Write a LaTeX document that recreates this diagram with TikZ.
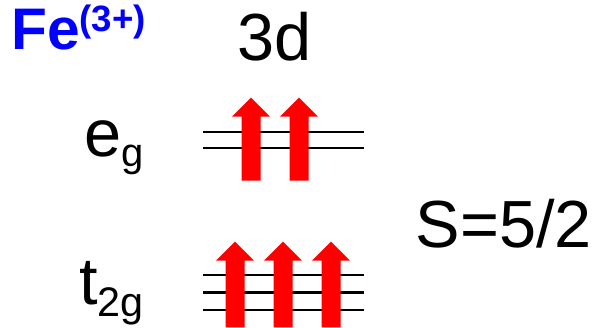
\documentclass[tikz,border=0pt]{standalone}
\usepackage{fontspec}
\setmainfont{Liberation Sans}
\tikzset{
  level/.style={line width=1.6pt},
  spin/.style={fill=red},
  big/.style={inner sep=0pt,font=\fontsize{50}{60}\selectfont},
}
\begin{document}
\begin{tikzpicture}[x=0.75pt,y=0.75pt]
\useasboundingbox (0,0) rectangle (596,328);
% e_g levels
\draw[level] (203,196.3) -- (364,196.3);
\draw[level] (203,180.3) -- (364,180.3);
% t_2g levels
\draw[level] (203,53) -- (364,53);
\draw[level] (203,35.5) -- (364,35.5);
\draw[level] (203,18) -- (364,18);
% spins in e_g
\fill[spin] (241.5,147.3) -- (241.5,211.3) -- (232,211.3) -- (251,230.3) -- (270,211.3) -- (260.5,211.3) -- (260.5,147.3) -- cycle;
\fill[spin] (289.5,147.3) -- (289.5,211.3) -- (280,211.3) -- (299,230.3) -- (318,211.3) -- (308.5,211.3) -- (308.5,147.3) -- cycle;
% spins in t_2g
\fill[spin] (225.5,0.7) -- (225.5,67.3) -- (216,67.3) -- (235,86.3) -- (254,67.3) -- (244.5,67.3) -- (244.5,0.7) -- cycle;
\fill[spin] (273.5,0.7) -- (273.5,67.3) -- (264,67.3) -- (283,86.3) -- (302,67.3) -- (292.5,67.3) -- (292.5,0.7) -- cycle;
\fill[spin] (321.5,0.7) -- (321.5,67.3) -- (312,67.3) -- (331,86.3) -- (350,67.3) -- (340.5,67.3) -- (340.5,0.7) -- cycle;
% labels
\node[inner sep=0pt,anchor=base west,text=blue,font=\fontsize{44}{52}\selectfont\bfseries] (ion) at (11,278) {Fe\raisebox{13.5pt}{\fontsize{27.5}{33}\selectfont(3+)}};
\node[big,anchor=base] (shell) at (274.5,267) {3d};
\node[big,anchor=base east] (eg) at (144,171) {e\raisebox{-7.5pt}{\fontsize{30}{36}\selectfont g}};
\node[big,anchor=base east] (tg) at (144,23.5) {t\raisebox{-9pt}{\fontsize{31}{37}\selectfont 2g}};
\node[big,anchor=base] (spin) at (504,80) {S=5/2};
\end{tikzpicture}
\end{document}
